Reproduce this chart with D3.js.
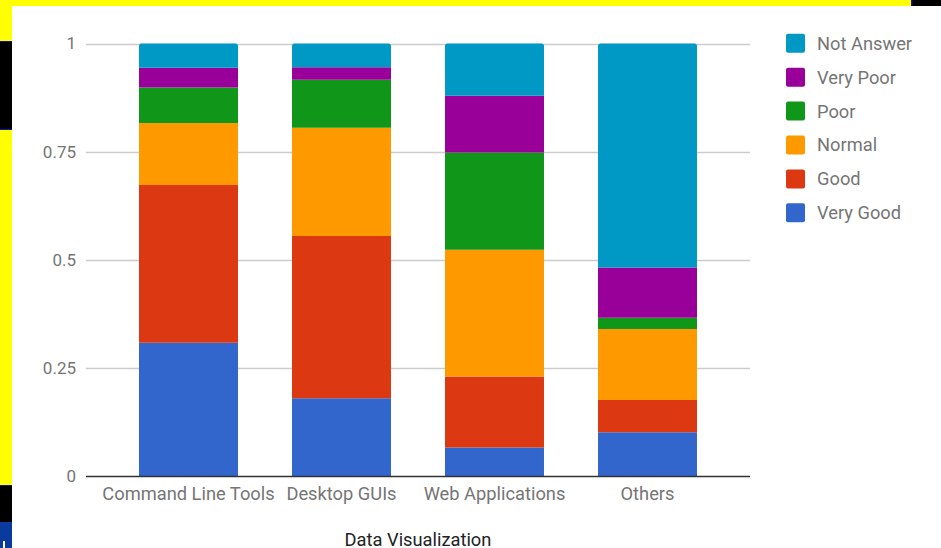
<!DOCTYPE html>
<html>
<head>
<meta charset="utf-8">
<script src="https://cdn.jsdelivr.net/npm/d3@7"></script>
<style>
  html, body { margin: 0; padding: 0; background: #000; }
  svg { display: block; font-family: Roboto, "Noto Sans", sans-serif; }
</style>
</head>
<body>
<svg id="chart" width="941" height="548"></svg>
<script>
// Categories along the x axis
const categories = ["Command Line Tools", "Desktop GUIs", "Web Applications", "Others"];

// Rating series (bottom to top in each stack)
const seriesNames = ["Very Good", "Good", "Normal", "Poor", "Very Poor", "Not Answer"];
const veryGood  = [0.308, 0.180, 0.066, 0.101];
const good      = [0.365, 0.375, 0.164, 0.075];
const normal    = [0.143, 0.250, 0.293, 0.164];
const poor      = [0.082, 0.111, 0.225, 0.026];
const veryPoor  = [0.046, 0.029, 0.131, 0.116];
const notAnswer = [0.056, 0.055, 0.121, 0.518];
const seriesColors = ["#3366cc", "#dc3912", "#ff9900", "#109618", "#990099", "#0099c6"];

const yTicks = [0, 0.25, 0.5, 0.75, 1];
const yTickLabels = ["0", "0.25", "0.5", "0.75", "1"];
const xTitle = "Data Visualization";

const svg = d3.select("#chart");

// Frame around the chart area
svg.append("rect").attr("x", 0).attr("y", 0).attr("width", 941).attr("height", 548).attr("fill", "#000");
svg.append("rect").attr("x", 0).attr("y", 0).attr("width", 911).attr("height", 6).attr("fill", "#ffff00");
svg.append("rect").attr("x", 911).attr("y", 0).attr("width", 1.5).attr("height", 6).attr("fill", "#1010c0");
svg.append("rect").attr("x", 0).attr("y", 0).attr("width", 12).attr("height", 41).attr("fill", "#ffff00");
svg.append("rect").attr("x", 0).attr("y", 41).attr("width", 12).attr("height", 1).attr("fill", "#1010c0");
svg.append("rect").attr("x", 0).attr("y", 129).attr("width", 12).attr("height", 1).attr("fill", "#1010c0");
svg.append("rect").attr("x", 0).attr("y", 130).attr("width", 12).attr("height", 355).attr("fill", "#ffff00");
svg.append("rect").attr("x", 0).attr("y", 485).attr("width", 12).attr("height", 1).attr("fill", "#1010c0");
svg.append("rect").attr("x", 0).attr("y", 522).attr("width", 12).attr("height", 26).attr("fill", "#0a3a9c");
svg.append("rect").attr("x", 3).attr("y", 541).attr("width", 2).attr("height", 7).attr("fill", "#fff");
svg.append("rect").attr("x", 12).attr("y", 6).attr("width", 929).attr("height", 542).attr("fill", "#fff");

// Scales
const x = d3.scaleBand().domain(categories).range([112, 724]).paddingInner(0.353).paddingOuter(0.1765);
const y = d3.scaleLinear().domain([0, 1]).range([476, 43.5]);
const gridX0 = 86, gridX1 = 750;

// Gridlines
svg.append("g").selectAll("line").data(yTicks.filter(t => t > 0)).join("line")
  .attr("x1", gridX0).attr("x2", gridX1)
  .attr("y1", d => Math.round(y(d)) + 0.5).attr("y2", d => Math.round(y(d)) + 0.5)
  .attr("stroke", "#cccccc").attr("stroke-width", 1.3);

// Y tick labels
svg.append("g").selectAll("text").data(yTicks).join("text")
  .attr("x", 76).attr("y", d => y(d)).attr("dy", "0.35em")
  .attr("text-anchor", "end").attr("fill", "#757575").attr("font-size", 17)
  .text((d, i) => yTickLabels[i]);

// Stacked data
const rows = categories.map((c, i) => ({
  category: c,
  "Very Good": veryGood[i], "Good": good[i], "Normal": normal[i],
  "Poor": poor[i], "Very Poor": veryPoor[i], "Not Answer": notAnswer[i]
}));
const stacked = d3.stack().keys(seriesNames)(rows);

// Rect with rounded top corners only
function topRounded(x0, y0, w, h, r) {
  return `M${x0},${y0 + h}V${y0 + r}Q${x0},${y0} ${x0 + r},${y0}H${x0 + w - r}Q${x0 + w},${y0} ${x0 + w},${y0 + r}V${y0 + h}Z`;
}

const last = seriesNames.length - 1;
stacked.forEach((layer, si) => {
  svg.append("g").selectAll("path").data(layer).join("path")
    .attr("d", d => {
      const x0 = x(d.data.category), w = x.bandwidth();
      const yt = y(d[1]), yb = y(d[0]);
      return si === last ? topRounded(x0, yt, w, yb - yt, 2.5) : `M${x0},${yb}V${yt}H${x0 + w}V${yb}Z`;
    })
    .attr("fill", seriesColors[si]);
});

// Baseline
svg.append("line").attr("x1", gridX0).attr("x2", gridX1)
  .attr("y1", y(0) + 0.5).attr("y2", y(0) + 0.5)
  .attr("stroke", "#333333").attr("stroke-width", 1.5);

// X axis labels
svg.append("g").selectAll("text").data(categories).join("text")
  .attr("x", d => x(d) + x.bandwidth() / 2).attr("y", 500)
  .attr("text-anchor", "middle").attr("fill", "#757575").attr("font-size", 18.3)
  .text(d => d);

// X axis title
svg.append("text").attr("x", (x.range()[0] + x.range()[1]) / 2).attr("y", 546)
  .attr("text-anchor", "middle").attr("fill", "#222222").attr("font-size", 18.3)
  .text(xTitle);

// Legend (top entry is the top of the stack)
const legendItems = seriesNames.map((n, i) => ({ name: n, color: seriesColors[i] })).reverse();
const lg = svg.append("g").selectAll("g").data(legendItems).join("g")
  .attr("transform", (d, i) => `translate(786, ${43.3 + i * 33.9})`);
lg.append("rect").attr("x", 0).attr("y", -9.5).attr("width", 19).attr("height", 19)
  .attr("rx", 2).attr("fill", d => d.color);
lg.append("text").attr("x", 31).attr("y", 0).attr("dy", "0.35em")
  .attr("fill", "#757575").attr("font-size", 18.3).text(d => d.name);
</script>
</body>
</html>
